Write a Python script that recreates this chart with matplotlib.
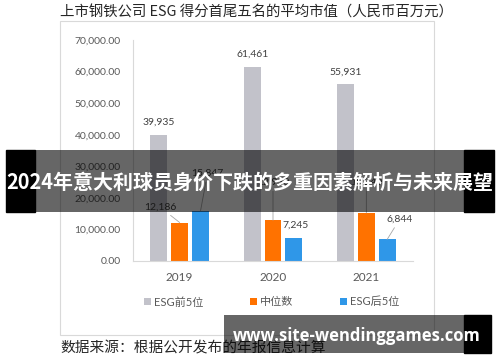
import matplotlib.pyplot as plt
from matplotlib.patches import Rectangle
import numpy as np

# data
years = ['2019', '2020', '2021']
top5 = [39935, 61461, 55931]
median = [12186, 12930, 15240]
bottom5 = [15847, 7245, 6844]
series_names = ['ESG前5位', '中位数', 'ESG后5位']
yticks = [0, 10000, 20000, 30000, 40000, 50000, 60000, 70000]

title = '上市钢铁公司 ESG 得分首尾五名的平均市值（人民币百万元）'
source = '数据来源：根据公开发布的年报信息计算'
banner = '2024年意大利球员身价下跌的多重因素解析与未来展望'
watermark = 'www.site-wendinggames.com'

c_gray, c_orange, c_blue = '#C2C2CA', '#FF7200', '#2F97E8'
txt_gray = '#595959'
num_font = ['Lato', 'Noto Sans CJK SC', 'DejaVu Sans']
cjk_font = ['Noto Sans CJK SC', 'DejaVu Sans']

fig = plt.figure(figsize=(5, 3.62), dpi=100)
W, H = 500, 362

def fx(px):
    return px / W

def fy(py):
    return 1 - py / H

# chart frame
fig.add_artist(Rectangle((fx(60), fy(335)), fx(374), 314 / H, transform=fig.transFigure,
                         fill=False, edgecolor='#D9D9D9', linewidth=0.8))

ax = fig.add_axes([fx(133), fy(261), fx(280), (261 - 40) / H])
x = np.arange(len(years))
step, bw = 21 / 94, 17 / 94
ax.bar(x - step, top5, bw, color=c_gray, label=series_names[0])
ax.bar(x, median, bw, color=c_orange, label=series_names[1])
ax.bar(x + step, bottom5, bw, color=c_blue, label=series_names[2])

ax.set_xlim(-0.5, 2.5)
ax.set_ylim(0, 70000)
ax.set_yticks(yticks)
ax.set_yticklabels([f'{v:,.2f}' for v in yticks], fontsize=7.5, color=txt_gray, family=num_font)
ax.set_xticks(x)
ax.set_xticklabels(years, fontsize=8.5, color=txt_gray, family=num_font)
ax.tick_params(axis='y', length=0, pad=9)
ax.tick_params(axis='x', length=0, pad=8)
for s in ['top', 'right']:
    ax.spines[s].set_visible(False)
for s in ['left', 'bottom']:
    ax.spines[s].set_color('#D9D9D9')
    ax.spines[s].set_linewidth(0.8)

lab_kw = dict(fontsize=7.5, color='#404040', family=num_font, ha='center', va='center',
              textcoords='offset points')
line_kw = dict(arrowstyle='-', color='#A6A6A6', lw=0.6, shrinkA=1, shrinkB=0)

# ESG top 5 labels, above the bars
for xi, v in zip(x - step, top5):
    ax.annotate(f'{v:,}', (xi, v), xytext=(0, 9), **lab_kw)

# median labels with leader lines (2020/2021 sit behind the banner text)
med_off = [(-14, 11), (0, 27), (0, 22)]
for xi, v, off in zip(x, median, med_off):
    ax.annotate(f'{v:,}', (xi, v), xytext=off, arrowprops=line_kw, **lab_kw)

# bottom 5 labels
bot_off = [(5, 27), (1, 9.5), (9, 14.5)]
for i, (xi, v, off) in enumerate(zip(x + step, bottom5, bot_off)):
    if i == 1:
        ax.annotate(f'{v:,}', (xi, v), xytext=off, **lab_kw)
    else:
        ax.annotate(f'{v:,}', (xi, v), xytext=off, arrowprops=line_kw, **lab_kw)

leg = ax.legend(loc='center', bbox_to_anchor=(fx(272), fy(302)), bbox_transform=fig.transFigure,
                ncol=3, frameon=False, handlelength=0.6, handleheight=0.6, handletextpad=0.3,
                columnspacing=4.2, prop={'family': num_font, 'size': 8})
for t in leg.get_texts():
    t.set_color(txt_gray)

fig.text(fx(60), fy(13), title, fontsize=10.4, color='#262626', family=cjk_font,
         ha='left', va='center')
fig.text(fx(60), fy(348), source, fontsize=10.6, color='#262626', family=cjk_font,
         ha='left', va='center')

# overlay banner
fig.add_artist(Rectangle((fx(6), fy(212)), fx(29), 62 / H, transform=fig.transFigure,
                         color='black', zorder=10))
fig.add_artist(Rectangle((fx(35), fy(212)), fx(429), 62 / H, transform=fig.transFigure,
                         color='black', alpha=0.6, zorder=10, lw=0))
fig.add_artist(Rectangle((fx(464), fy(212)), fx(30), 62 / H, transform=fig.transFigure,
                         color='black', zorder=10))
fig.text(fx(250), fy(182), banner, fontsize=14.4, color='white', weight='bold',
         family=cjk_font, ha='center', va='center', zorder=11)

# watermark box
fig.add_artist(Rectangle((fx(224), fy(353)), fx(240), 38 / H, transform=fig.transFigure,
                         color='black', alpha=0.6, zorder=10, lw=0))
fig.add_artist(Rectangle((fx(464), fy(353)), fx(27), 38 / H, transform=fig.transFigure,
                         color='black', zorder=10))
fig.text(fx(233), fy(336), watermark, fontsize=12.0, color='white', weight='bold',
         family=['Open Sans', 'DejaVu Sans'], ha='left', va='center', zorder=11)

fig.savefig('out.png', dpi=100)
